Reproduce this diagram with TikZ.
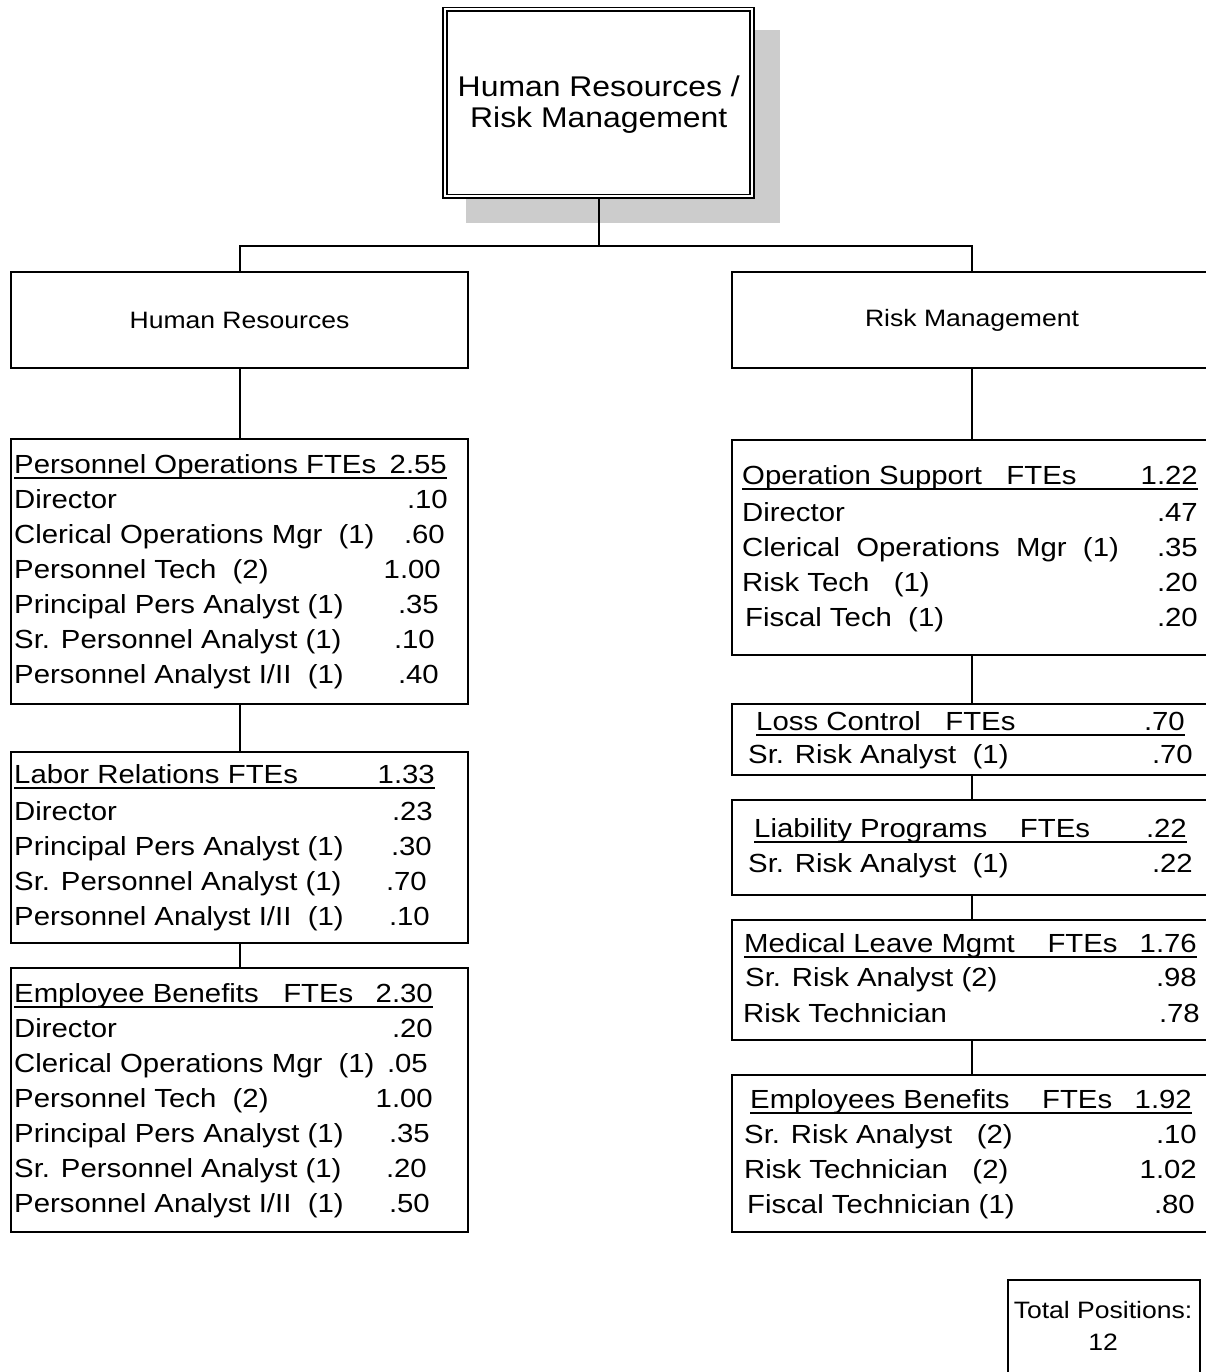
\documentclass[tikz,border=0pt]{standalone}
\usepackage{fontspec}
\setmainfont{Liberation Sans}[FakeStretch=1.12]
\usetikzlibrary{positioning}

\tikzset{
  box/.style={draw, line width=2pt, rectangle, inner sep=0pt, anchor=north west},
  row/.style={font=\fontsize{26.2}{30}\selectfont, inner sep=0pt},
  lbl/.style={font=\fontsize{23.7}{28}\selectfont, inner sep=0pt},
  uline/.style={line width=1.3pt},
  link/.style={line width=2pt}
}

\begin{document}
\begin{tikzpicture}[x=1pt, y=-1pt]
    \clip (0,0) rectangle (1206,1372);
    \fill[white] (0,0) rectangle (1206,1372);

    % Top box with its grey shadow
    \fill[black!20] (466,30) rectangle (780,223);
    \node[draw, double, line width=1.8pt, double distance=2pt, fill=white,
          minimum width=307pt, minimum height=187pt] (top) at (598.75,103) {};
    \node[inner sep=0pt, anchor=base, font=\fontsize{28.5}{31}\selectfont] (top-1) at (598.75,97) {Human Resources /};
    \node[inner sep=0pt, anchor=base, font=\fontsize{28.5}{31}\selectfont] (top-2) at (598.75,128) {Risk Management};

    % The two divisions
    \node[box, minimum width=457pt, minimum height=96pt] (hr) at (10,271) {};
    \node[lbl] at (hr.center) {Human Resources};
    \node[box, minimum width=480pt, minimum height=96pt] (rm) at (731,271) {};
    \node[lbl] at (rm.center) {Risk Management};

    \coordinate (bus) at (598.75,246);
    \draw[link] (top.south) -- (bus);
    \draw[link] (hr.north) |- (bus) -| (rm.north);

    % Left column boxes
    \node[box, minimum width=457pt, minimum height=265pt] (po) at (10,438) {};
    \node[box, minimum width=457pt, minimum height=191pt] (lr) at (10,751) {};
    \node[box, minimum width=457pt, minimum height=264pt] (eb) at (10,967) {};
    \draw[link] (hr.south) -- (po.north);
    \draw[link] (po.south) -- (lr.north);
    \draw[link] (lr.south) -- (eb.north);

    % Personnel Operations
    \node[row, anchor=base west] (po-h) at (14,473) {Personnel Operations FTEs};
    \node[row, anchor=base east] (po-hv) at (447,473) {2.55};
    \draw[uline] ([yshift=-5pt]po-h.base west) -- ([yshift=-5pt]po-hv.base east);
    \node[row, anchor=base west] (po-l1) at (14,508) {Director};
    \node[row, anchor=base east] (po-v1) at (448,508) {.10};
    \node[row, anchor=base west] (po-l2) at (14,543) {Clerical Operations Mgr~~(1)};
    \node[row, anchor=base east] (po-v2) at (445,543) {.60};
    \node[row, anchor=base west] (po-l3) at (14,578) {Personnel Tech~~(2)};
    \node[row, anchor=base east] (po-v3) at (441,578) {1.00};
    \node[row, anchor=base west] (po-l4) at (14,613) {Principal Pers Analyst (1)};
    \node[row, anchor=base east] (po-v4) at (439,613) {.35};
    \node[row, anchor=base west] (po-l5) at (14,648) {Sr. Personnel Analyst (1)};
    \node[row, anchor=base east] (po-v5) at (435,648) {.10};
    \node[row, anchor=base west] (po-l6) at (14,683) {Personnel Analyst I/II~~(1)};
    \node[row, anchor=base east] (po-v6) at (439,683) {.40};

    % Labor Relations
    \node[row, anchor=base west] (lr-h) at (14,783) {Labor Relations FTEs};
    \node[row, anchor=base east] (lr-hv) at (435,783) {1.33};
    \draw[uline] ([yshift=-5pt]lr-h.base west) -- ([yshift=-5pt]lr-hv.base east);
    \node[row, anchor=base west] (lr-l1) at (14,820) {Director};
    \node[row, anchor=base east] (lr-v1) at (433,820) {.23};
    \node[row, anchor=base west] (lr-l2) at (14,855) {Principal Pers Analyst (1)};
    \node[row, anchor=base east] (lr-v2) at (432,855) {.30};
    \node[row, anchor=base west] (lr-l3) at (14,890) {Sr. Personnel Analyst (1)};
    \node[row, anchor=base east] (lr-v3) at (427,890) {.70};
    \node[row, anchor=base west] (lr-l4) at (14,925) {Personnel Analyst I/II~~(1)};
    \node[row, anchor=base east] (lr-v4) at (430,925) {.10};

    % Employee Benefits
    \node[row, anchor=base west] (eb-h) at (14,1002) {Employee Benefits~~~FTEs};
    \node[row, anchor=base east] (eb-hv) at (433,1002) {2.30};
    \draw[uline] ([yshift=-5pt]eb-h.base west) -- ([yshift=-5pt]eb-hv.base east);
    \node[row, anchor=base west] (eb-l1) at (14,1037) {Director};
    \node[row, anchor=base east] (eb-v1) at (433,1037) {.20};
    \node[row, anchor=base west] (eb-l2) at (14,1072) {Clerical Operations Mgr~~(1)};
    \node[row, anchor=base east] (eb-v2) at (428,1072) {.05};
    \node[row, anchor=base west] (eb-l3) at (14,1107) {Personnel Tech~~(2)};
    \node[row, anchor=base east] (eb-v3) at (433,1107) {1.00};
    \node[row, anchor=base west] (eb-l4) at (14,1142) {Principal Pers Analyst (1)};
    \node[row, anchor=base east] (eb-v4) at (430,1142) {.35};
    \node[row, anchor=base west] (eb-l5) at (14,1177) {Sr. Personnel Analyst (1)};
    \node[row, anchor=base east] (eb-v5) at (427,1177) {.20};
    \node[row, anchor=base west] (eb-l6) at (14,1212) {Personnel Analyst I/II~~(1)};
    \node[row, anchor=base east] (eb-v6) at (430,1212) {.50};

    % Right column boxes
    \node[box, minimum width=480pt, minimum height=215pt] (os) at (731,439) {};
    \node[box, minimum width=480pt, minimum height=71pt] (lc) at (731,703) {};
    \node[box, minimum width=480pt, minimum height=95pt] (lp) at (731,799) {};
    \node[box, minimum width=480pt, minimum height=120pt] (ml) at (731,919) {};
    \node[box, minimum width=480pt, minimum height=157pt] (reb) at (731,1074) {};
    \draw[link] (rm.south) -- (os.north);
    \draw[link] (os.south) -- (lc.north);
    \draw[link] (lc.south) -- (lp.north);
    \draw[link] (lp.south) -- (ml.north);
    \draw[link] (ml.south) -- (reb.north);

    % Operation Support
    \node[row, anchor=base west] (os-h) at (742,484) {Operation Support~~~FTEs};
    \node[row, anchor=base east] (os-hv) at (1198,484) {1.22};
    \draw[uline] ([yshift=-5pt]os-h.base west) -- ([yshift=-5pt]os-hv.base east);
    \node[row, anchor=base west] (os-l1) at (742,521) {Director};
    \node[row, anchor=base east] (os-v1) at (1198,521) {.47};
    \node[row, anchor=base west] (os-l2) at (742,556) {Clerical~~Operations~~Mgr~~(1)};
    \node[row, anchor=base east] (os-v2) at (1198,556) {.35};
    \node[row, anchor=base west] (os-l3) at (742,591) {Risk Tech~~~(1)};
    \node[row, anchor=base east] (os-v3) at (1198,591) {.20};
    \node[row, anchor=base west] (os-l4) at (745,626) {Fiscal Tech~~(1)};
    \node[row, anchor=base east] (os-v4) at (1198,626) {.20};

    % Loss Control
    \node[row, anchor=base west] (lc-h) at (756,730) {Loss Control~~~FTEs};
    \node[row, anchor=base east] (lc-hv) at (1185,730) {.70};
    \draw[uline] ([yshift=-5pt]lc-h.base west) -- ([yshift=-5pt]lc-hv.base east);
    \node[row, anchor=base west] (lc-l1) at (748,763) {Sr. Risk Analyst~~(1)};
    \node[row, anchor=base east] (lc-v1) at (1193,763) {.70};

    % Liability Programs
    \node[row, anchor=base west] (lp-h) at (754,837) {Liability Programs~~~~FTEs};
    \node[row, anchor=base east] (lp-hv) at (1187,837) {.22};
    \draw[uline] ([yshift=-5pt]lp-h.base west) -- ([yshift=-5pt]lp-hv.base east);
    \node[row, anchor=base west] (lp-l1) at (748,872) {Sr. Risk Analyst~~(1)};
    \node[row, anchor=base east] (lp-v1) at (1193,872) {.22};

    % Medical Leave Mgmt
    \node[row, anchor=base west] (ml-h) at (744,952) {Medical Leave Mgmt~~~~FTEs};
    \node[row, anchor=base east] (ml-hv) at (1197,952) {1.76};
    \draw[uline] ([yshift=-5pt]ml-h.base west) -- ([yshift=-5pt]ml-hv.base east);
    \node[row, anchor=base west] (ml-l1) at (745,986) {Sr. Risk Analyst (2)};
    \node[row, anchor=base east] (ml-v1) at (1197,986) {.98};
    \node[row, anchor=base west] (ml-l2) at (743,1022) {Risk Technician};
    \node[row, anchor=base east] (ml-v2) at (1200,1022) {.78};

    % Employees Benefits
    \node[row, anchor=base west] (reb-h) at (750,1108) {Employees Benefits~~~~FTEs};
    \node[row, anchor=base east] (reb-hv) at (1192,1108) {1.92};
    \draw[uline] ([yshift=-5pt]reb-h.base west) -- ([yshift=-5pt]reb-hv.base east);
    \node[row, anchor=base west] (reb-l1) at (744,1143) {Sr. Risk Analyst~~~(2)};
    \node[row, anchor=base east] (reb-v1) at (1197,1143) {.10};
    \node[row, anchor=base west] (reb-l2) at (744,1178) {Risk Technician~~~(2)};
    \node[row, anchor=base east] (reb-v2) at (1197,1178) {1.02};
    \node[row, anchor=base west] (reb-l3) at (747,1213) {Fiscal Technician (1)};
    \node[row, anchor=base east] (reb-v3) at (1195,1213) {.80};

    % Total positions
    \node[box, line width=1.6pt, minimum width=192pt, minimum height=121pt] (total) at (1007,1279) {};
    \node[lbl, anchor=base] (total-1) at (1103,1318) {Total Positions:};
    \node[lbl, anchor=base] (total-2) at (1103,1350) {12};
\end{tikzpicture}
\end{document}
